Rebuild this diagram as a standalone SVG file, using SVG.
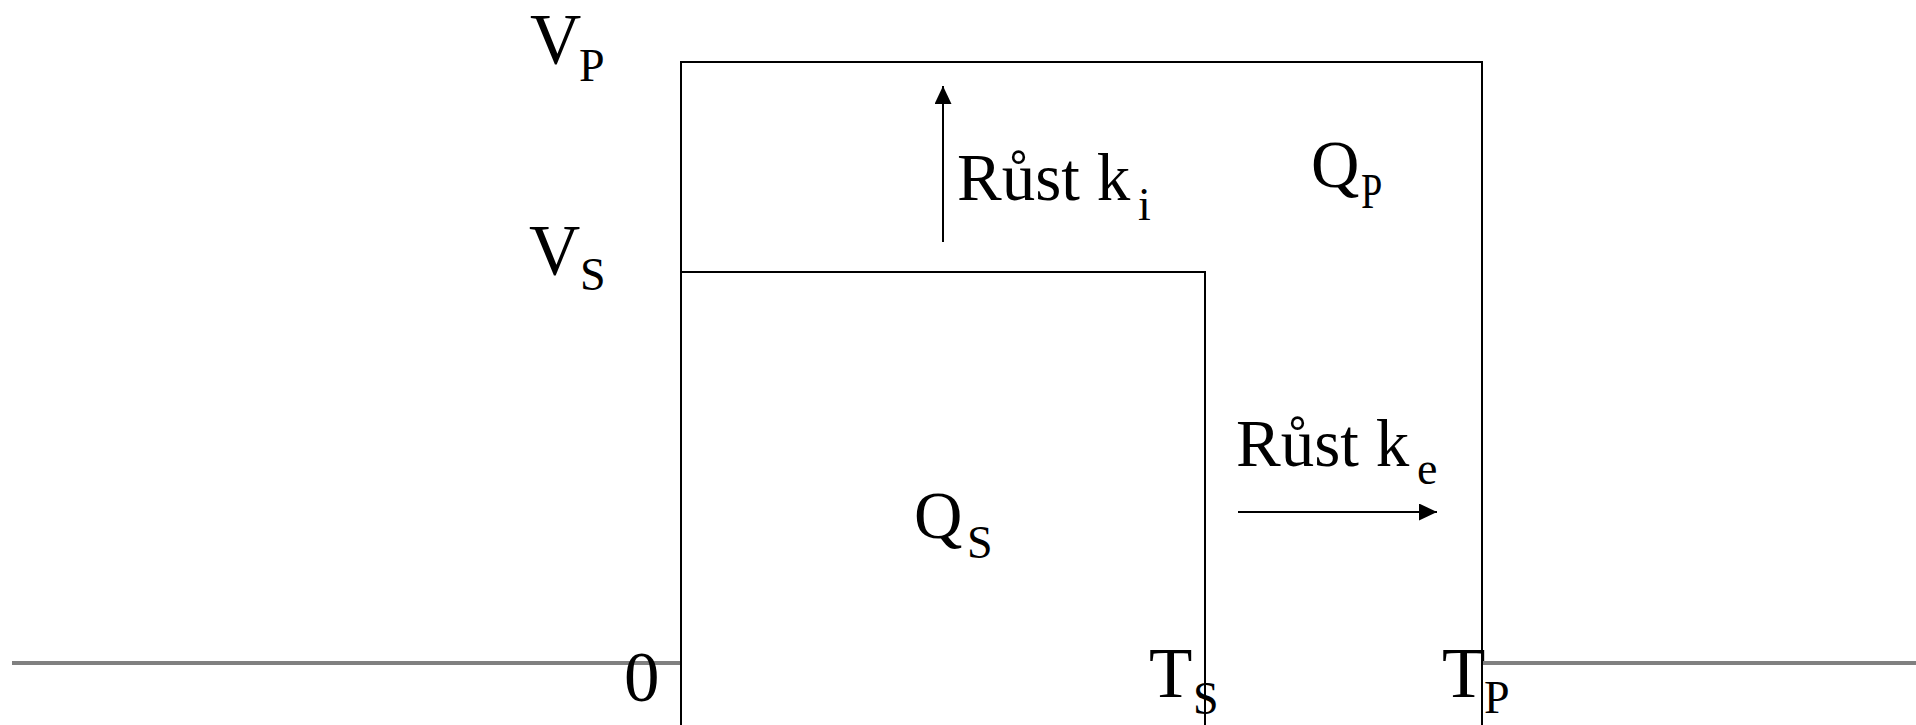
<svg xmlns="http://www.w3.org/2000/svg" width="1916" height="725" viewBox="0 0 1916 725">
<style>
.t{font-family:"Liberation Serif","Times New Roman",serif;fill:#000}
.big{font-size:71px}
.mid{font-size:67px}
.sub{font-size:46px}
.box{fill:#fff;stroke:#000;stroke-width:2}
.ax{stroke:#808080;stroke-width:4}
.arr{stroke:#000;stroke-width:2;fill:none}
</style>
<defs>
<marker id="ah" markerUnits="userSpaceOnUse" markerWidth="20" markerHeight="18" refX="18" refY="8.5" orient="auto">
<path d="M0,0 L18,8.5 L0,17 Z" fill="#000"/>
</marker>
</defs>
<g id="axis">
<line class="ax" x1="12" y1="663" x2="1916" y2="663"/>
</g>
<g id="region-P">
<rect class="box" x="681" y="62" width="801" height="700"/>
<text class="t mid" x="1311" y="187">Q</text>
<text class="t" transform="translate(1361,208) scale(0.75,1)" font-size="51">P</text>
</g>
<g id="region-S">
<rect class="box" x="681" y="272" width="524" height="490"/>
<text class="t mid" x="914" y="538">Q</text>
<text class="t sub" x="967" y="558">S</text>
</g>
<g id="connectors">
<line class="arr" x1="943" y1="242" x2="943" y2="86" marker-end="url(#ah)"/>
<line class="arr" x1="1238" y1="512" x2="1437" y2="512" marker-end="url(#ah)"/>
</g>
<g id="label-ki">
<text class="t mid" x="957" y="200">Růst k</text>
<text class="t sub" x="1138" y="220">i</text>
</g>
<g id="label-ke">
<text class="t mid" x="1236" y="466">Růst k</text>
<text class="t sub" x="1417" y="484">e</text>
</g>
<g id="label-VP">
<text class="t big" x="530" y="63">V</text>
<text class="t sub" x="579" y="81">P</text>
</g>
<g id="label-VS">
<text class="t big" x="529" y="274">V</text>
<text class="t sub" x="580" y="290">S</text>
</g>
<g id="label-0">
<text class="t big" x="624" y="701">0</text>
</g>
<g id="label-TS">
<text class="t big" x="1149" y="697">T</text>
<text class="t sub" x="1193" y="714">S</text>
</g>
<g id="label-TP">
<text class="t big" x="1442" y="697">T</text>
<text class="t sub" x="1484" y="713">P</text>
</g>
</svg>
